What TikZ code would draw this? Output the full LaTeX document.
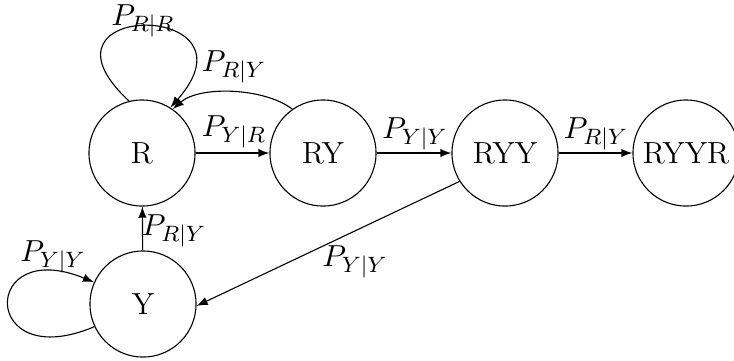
\documentclass[tikz,border=0pt]{standalone}
\usetikzlibrary{arrows}
\begin{document}
\begin{tikzpicture}[x=0.36pt,y=-0.36pt,
  every node/.style={font=\fontsize{11}{13}\selectfont},
  state/.style={draw,circle,minimum size=38.2pt,inner sep=0pt,line width=0.4pt},
  conn/.style={-latex,line width=0.4pt},
  lbl/.style={inner sep=0pt}]
\useasboundingbox (0,0) rectangle (734,360);
\node[state] (R) at (142,153) {R};
\node[state] (RY) at (323,153) {RY};
\node[state] (RYY) at (505,153) {RYY};
\node[state] (RYYR) at (686,153) {RYYR};
\node[state] (Y) at (143,304) {Y};
% loops
\draw[conn] (R.104) .. controls (20,0) and (266,0) .. (R.58);
\draw[conn] (Y.205) .. controls (-20,375) and (-20,235) .. (Y.156);
% straight edges
\draw[conn] (R) -- (RY);
\draw[conn] (RY) -- (RYY);
\draw[conn] (RYY) -- (RYYR);
\draw[conn] (Y) -- (R);
\draw[conn] (RYY.212) -- (Y.-2);
\draw[conn] (RY.125) .. controls (265,88) and (200,85) .. (R.55);
% labels
\node[lbl] (l1) at (143,21) {$P_{R|R}$};
\node[lbl] (l2) at (234,67) {$P_{R|Y}$};
\node[lbl] (l3) at (234,132) {$P_{Y|R}$};
\node[lbl] (l4) at (415,134) {$P_{Y|Y}$};
\node[lbl] (l5) at (596,134) {$P_{R|Y}$};
\node[lbl] (l6) at (355,262) {$P_{Y|Y}$};
\node[lbl] (l7) at (174,231) {$P_{R|Y}$};
\node[lbl] (l8) at (53,257) {$P_{Y|Y}$};
\end{tikzpicture}
\end{document}
